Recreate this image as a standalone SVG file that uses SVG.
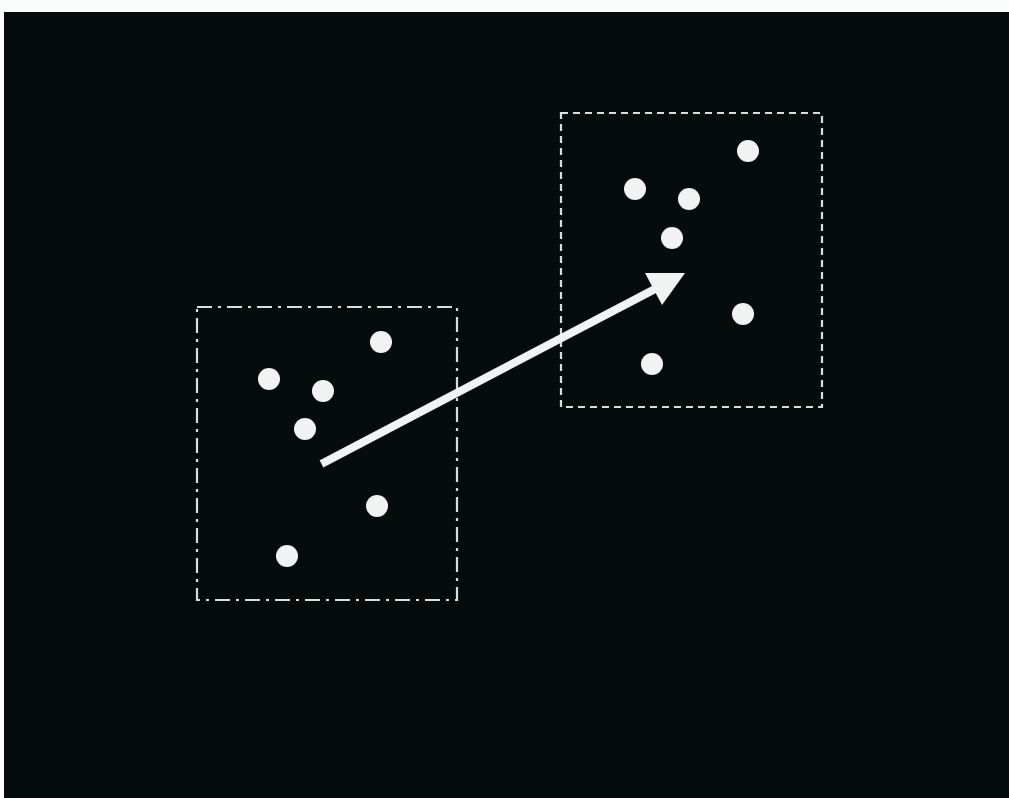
<svg xmlns="http://www.w3.org/2000/svg" width="1009" height="798" viewBox="0 0 1009 798">
<style>
.dot{fill:#f1f3f3}
.box{fill:none;stroke:#d9dddd;stroke-width:2.2}
</style>
<rect x="0" y="0" width="1009" height="798" fill="#fbfcfc"/>
<rect x="4" y="12" width="1005" height="786" fill="#060c0c"/>
<g id="box-left">
<rect class="box" x="197" y="307" width="260" height="293" stroke-dasharray="15 6 3 6"/>
<circle class="dot" cx="381" cy="342" r="11"/>
<circle class="dot" cx="269" cy="379" r="11"/>
<circle class="dot" cx="323" cy="391" r="11"/>
<circle class="dot" cx="305" cy="429" r="11"/>
<circle class="dot" cx="377" cy="506" r="11"/>
<circle class="dot" cx="287" cy="556" r="11"/>
</g>
<g id="box-right">
<rect class="box" x="561" y="113" width="261" height="294" stroke-dasharray="7 5"/>
<circle class="dot" cx="748" cy="151" r="11"/>
<circle class="dot" cx="635" cy="189" r="11"/>
<circle class="dot" cx="689" cy="199" r="11"/>
<circle class="dot" cx="672" cy="238" r="11"/>
<circle class="dot" cx="743" cy="314" r="11"/>
<circle class="dot" cx="652" cy="364" r="11"/>
</g>
<g id="connectors">
<line x1="325" y1="462" x2="657" y2="288" stroke="#f1f3f3" stroke-width="8" stroke-linecap="square"/>
<polygon points="685,273 645,273 662,305" fill="#f1f3f3"/>
</g>
</svg>
